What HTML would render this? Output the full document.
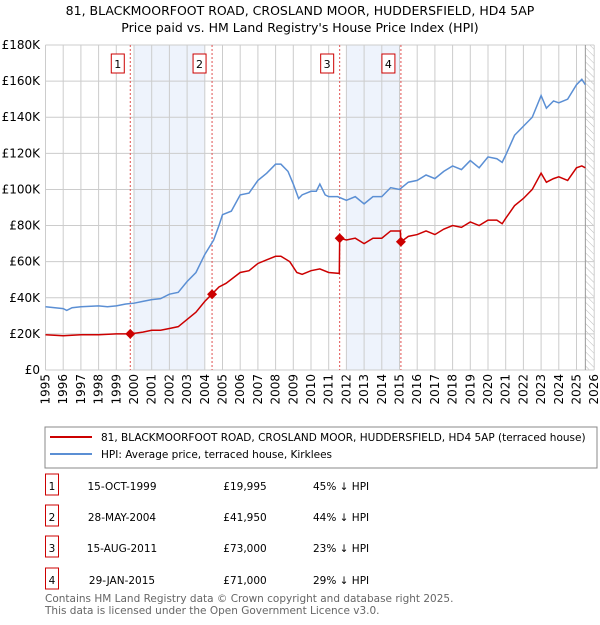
<!DOCTYPE html>
<html><head><meta charset="utf-8"><style>
body{margin:0;background:#fff;font-family:"Liberation Sans","DejaVu Sans",sans-serif;}
svg text{font-family:"DejaVu Sans","Liberation Sans",sans-serif;}
</style></head><body>
<svg id="c" width="600" height="620" xmlns="http://www.w3.org/2000/svg">
<defs><pattern id="hatch" width="5" height="5" patternUnits="userSpaceOnUse" patternTransform="rotate(-45)"><line x1="0" y1="0" x2="0" y2="5" stroke="#bbb" stroke-width="1"/></pattern></defs>
<text x="300" y="15" font-size="12.5" text-anchor="middle">81, BLACKMOORFOOT ROAD, CROSLAND MOOR, HUDDERSFIELD, HD4 5AP</text>
<text x="300" y="32" font-size="12.5" text-anchor="middle">Price paid vs. HM Land Registry's House Price Index (HPI)</text>
<g id="plot"></g>
<rect x="45" y="427" width="552" height="41" fill="none" stroke="#888"/>
<line x1="50" y1="437" x2="92" y2="437" stroke="#cc0000" stroke-width="2"/>
<text x="101" y="441" font-size="10.5">81, BLACKMOORFOOT ROAD, CROSLAND MOOR, HUDDERSFIELD, HD4 5AP (terraced house)</text>
<line x1="50" y1="454" x2="92" y2="454" stroke="#5b8fd4" stroke-width="2"/>
<text x="101" y="458" font-size="10.5">HPI: Average price, terraced house, Kirklees</text>
<g id="tbl" font-size="10.5"></g>
<text x="45" y="602" font-size="10.5" fill="#666">Contains HM Land Registry data © Crown copyright and database right 2025.</text>
<text x="45" y="614" font-size="10.5" fill="#666">This data is licensed under the Open Government Licence v3.0.</text>
</svg>
<script>
const hpiYears=[1995,1996,1996.2,1996.5,1997,1998,1998.5,1999,1999.5,2000,2000.5,2001,2001.5,2002,2002.5,2003,2003.5,2004,2004.5,2004.8,2005,2005.5,2006,2006.5,2007,2007.5,2008,2008.3,2008.7,2009,2009.3,2009.5,2010,2010.3,2010.5,2010.8,2011,2011.5,2012,2012.5,2013,2013.5,2014,2014.5,2015,2015.5,2016,2016.5,2017,2017.5,2018,2018.5,2019,2019.5,2020,2020.5,2020.8,2021,2021.5,2022,2022.5,2023,2023.3,2023.7,2024,2024.5,2025,2025.3,2025.5];
const hpiValues=[35,34,33,34.5,35,35.5,35,35.5,36.5,37,38,39,39.5,42,43,49,54,64,72,80,86,88,97,98,105,109,114,114,110,103,95,97,99,99,103,97,96,96,94,96,92,96,96,101,100,104,105,108,106,110,113,111,116,112,118,117,115,119,130,135,140,152,145,149,148,150,158,161,158];
const redYears=[1995,1996,1997,1998,1999,1999.8,2000.5,2001,2001.5,2002,2002.5,2003,2003.5,2004,2004.4,2004.8,2005.2,2006,2006.5,2007,2007.5,2008,2008.3,2008.8,2009.2,2009.5,2010,2010.5,2011,2011.6,2011.62,2012,2012.5,2013,2013.5,2014,2014.5,2015.05,2015.08,2015.5,2016,2016.5,2017,2017.5,2018,2018.5,2019,2019.5,2020,2020.5,2020.8,2021,2021.5,2022,2022.5,2023,2023.3,2023.7,2024,2024.5,2025,2025.3,2025.5];
const redValues=[19.5,19,19.5,19.5,20,20,21,22,22,23,24,28,32,38,42,46,48,54,55,59,61,63,63,60,54,53,55,56,54,53.5,73,72,73,70,73,73,77,77,71,74,75,77,75,78,80,79,82,80,83,83,81,84,91,95,100,109,104,106,107,105,112,113,112];
const saleYears=[1999.79,2004.41,2011.62,2015.08];
const saleValues=[19.995,41.95,73,71];
const saleDates=["15-OCT-1999","28-MAY-2004","15-AUG-2011","29-JAN-2015"];
const salePrices=["£19,995","£41,950","£73,000","£71,000"];
const saleDiffs=["45% ↓ HPI","44% ↓ HPI","23% ↓ HPI","29% ↓ HPI"];
const shadeStarts=[2000,2012];
const shadeEnds=[2004,2015];
const yTicks=[0,20,40,60,80,100,120,140,160,180];
const xTicks=[1995,1996,1997,1998,1999,2000,2001,2002,2003,2004,2005,2006,2007,2008,2009,2010,2011,2012,2013,2014,2015,2016,2017,2018,2019,2020,2021,2022,2023,2024,2025,2026];
const NS="http://www.w3.org/2000/svg";
const X=y=>45.5+(y-1995)*17.7, Y=v=>370-v*325/180;
const g=document.getElementById('plot');
function mk(t,a,p){const e=document.createElementNS(NS,t);for(const k in a)e.setAttribute(k,a[k]);(p||g).appendChild(e);return e;}
shadeStarts.forEach((s,i)=>{
 const r=mk('rect',{x:X(s),y:45,width:X(shadeEnds[i])-X(s),height:325,fill:'#eef3fc'});
 
 
});
const hx=X(2025.5);
const hr=mk('rect',{x:hx,y:45,width:X(2026)-hx,height:325,fill:'url(#hatch)'});


yTicks.forEach(v=>{
 const l=mk('line',{x1:45.5,x2:X(2026),y1:Y(v),y2:Y(v),stroke:'#ccc'});
 
 
 const t=mk('text',{x:40,y:Y(v)+4,'font-size':12,'text-anchor':'end'});
 t.textContent=v===0?'£0':'£'+v+'K';
 
 
});
xTicks.forEach(y=>{
 const l=mk('line',{x1:X(y),x2:X(y),y1:45,y2:370,stroke:'#ccc'});
 
 
 const t=mk('text',{x:X(y)+4,y:374,'font-size':12,'text-anchor':'end',transform:`rotate(-90 ${X(y)+4} 374)`});
 t.textContent=y;
 
 
});
const vl=mk('line',{x1:hx,x2:hx,y1:45,y2:370,stroke:'#999','stroke-width':1});


saleYears.forEach((s,i)=>{
 const l=mk('line',{x1:X(s),x2:X(s),y1:45,y2:370,stroke:'#e05050','stroke-dasharray':'2,2'});
 
 
 const b=mk('rect',{x:X(s)-19,y:54,width:13,height:19,fill:'#fff',stroke:'#cc0000'});
 
 
 const t=mk('text',{x:X(s)-12.5,y:68,'font-size':11,'text-anchor':'middle'});
 t.textContent=i+1;
 
 
});
const hp=mk('polyline',{points:hpiYears.map((y,i)=>X(y)+','+Y(hpiValues[i])).join(' '),fill:'none',stroke:'#5b8fd4','stroke-width':1.5});


const rp=mk('polyline',{points:redYears.map((y,i)=>X(y)+','+Y(redValues[i])).join(' '),fill:'none',stroke:'#cc0000','stroke-width':1.5});


saleYears.forEach((s,i)=>{
 const x=X(s),y=Y(saleValues[i]);
 const d=mk('polygon',{points:`${x},${y-5} ${x+5},${y} ${x},${y+5} ${x-5},${y}`,fill:'#cc0000'});
 
 
});
const tb=document.getElementById('tbl');
const rowY=[486,517,548,580];
saleDates.forEach((d,i)=>{
 const y=rowY[i];
 const b=mk('rect',{x:45.5,y:y-12,width:13,height:21,fill:'#fff',stroke:'#cc0000'},tb);
 
 
 const vals=[[52,'middle',String(i+1)],[122,'middle',d],[245,'middle',salePrices[i]],[313,'start',saleDiffs[i]]];
 vals.forEach((v,j)=>{
  const t=mk('text',{x:v[0],y:y+4,'text-anchor':v[1]},tb);
  t.textContent=v[2];
  
  
 });
});
</script>
</body></html>
